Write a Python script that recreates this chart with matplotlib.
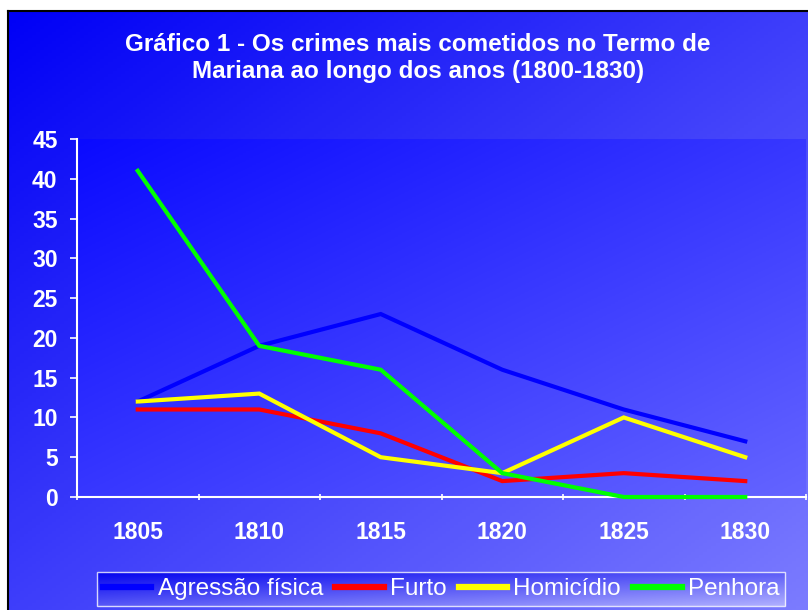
import numpy as np
import matplotlib
matplotlib.use("Agg")
import matplotlib.pyplot as plt
from matplotlib.colors import LinearSegmentedColormap

years = ["1805", "1810", "1815", "1820", "1825", "1830"]
agressao = [12, 19, 23, 16, 11, 7]
furto = [11, 11, 8, 2, 3, 2]
homicidio = [12, 13, 5, 3, 10, 5]
penhora = [41, 19, 16, 3, 0, 0]
series_names = ["Agressão física", "Furto", "Homicídio", "Penhora"]
series_colors = ["#0000FF", "#FF0000", "#FFFF00", "#00FF00"]
title = "Gráfico 1 - Os crimes mais cometidos no Termo de\nMariana ao longo dos anos (1800-1830)"

W, H = 808, 610
fig = plt.figure(figsize=(W / 100, H / 100), dpi=100)
fig.patch.set_facecolor("white")


def gradient(c0, c1, n=200):
    x = np.linspace(0, 1, n)
    X, Y = np.meshgrid(x, x)
    t = (X + Y) / 2.0
    cmap = LinearSegmentedColormap.from_list("g", [c0, c1])
    return cmap(t)


def px(l, t, r, b):
    return [l / W, 1 - b / H, (r - l) / W, (b - t) / H]


# figure background panel with gradient
bg = fig.add_axes(px(8, 11, 812, 612))
bg.imshow(gradient("#0000F6", "#7C7CFF"), aspect="auto", extent=[0, 1, 0, 1], zorder=0)
bg.set_xlim(0, 1); bg.set_ylim(0, 1)
bg.set_xticks([]); bg.set_yticks([])
for s in bg.spines.values():
    s.set_color("black"); s.set_linewidth(1.5)
bg.set_zorder(0)

# plot area
ax = fig.add_axes(px(77, 139, 806, 497))
ax.set_zorder(1)
ax.imshow(gradient("#0A0AFF", "#6464FF"), aspect="auto", extent=[0, 6, 0, 45], zorder=0)
x = np.arange(len(years)) + 0.5
all_series = [agressao, furto, homicidio, penhora]
handles = []
for vals, name, col in zip(all_series, series_names, series_colors):
    h, = ax.plot(x, vals, color=col, lw=3.0, solid_joinstyle="miter", zorder=3, label=name, clip_on=False)
    handles.append(h)
ax.set_xlim(0, 6)
ax.set_ylim(0, 45)
ax.set_yticks(np.arange(0, 46, 5))
ax.set_xticks(x)
ax.set_xticklabels(years)
ax.set_xticks(np.arange(0, 7), minor=True)
ax.tick_params(axis="x", which="major", length=0, pad=17)
ax.tick_params(axis="x", which="minor", length=5, color="white", width=1.2, direction="inout")
ax.tick_params(axis="y", length=5, color="white", width=1.2, direction="out", pad=9)
for lab in ax.get_xticklabels() + ax.get_yticklabels():
    lab.set_fontfamily("Liberation Sans")
    lab.set_fontweight("bold")
    lab.set_color("white")
    lab.set_fontsize(16.5)
for side in ["top", "right"]:
    ax.spines[side].set_visible(False)
for side in ["left", "bottom"]:
    ax.spines[side].set_color("white")
    ax.spines[side].set_linewidth(1.5)

fig.text(418 / W, 1 - 58 / H, title, ha="center", va="center", color="white",
         fontsize=17.5, fontweight="bold", family="Liberation Sans", linespacing=1.25)

leg = fig.legend(handles=handles, loc="center", bbox_to_anchor=(441 / W, 1 - 589 / H),
                 ncol=4, frameon=True, prop={"family": "Liberation Sans", "size": 17.5},
                 handlelength=2.0, handletextpad=0.25, columnspacing=0.5, borderpad=0.25,
                 fancybox=False, labelcolor="white")
leg.get_frame().set_facecolor("none")
leg.get_frame().set_edgecolor("white")
leg.get_frame().set_linewidth(1.0)
for lh in leg.get_lines():
    lh.set_linewidth(4.5)
leg.set_zorder(5)

fig.canvas.draw()
bb = leg.get_window_extent().transformed(fig.transFigure.inverted())
lax = fig.add_axes([bb.x0, bb.y0, bb.width, bb.height])
lax.set_zorder(2)
lax.imshow(gradient("#0000EE", "#B0B0FF"), aspect="auto", extent=[0, 1, 0, 1])
lax.axis("off")

fig.savefig("out.png", dpi=100, facecolor=fig.get_facecolor())
